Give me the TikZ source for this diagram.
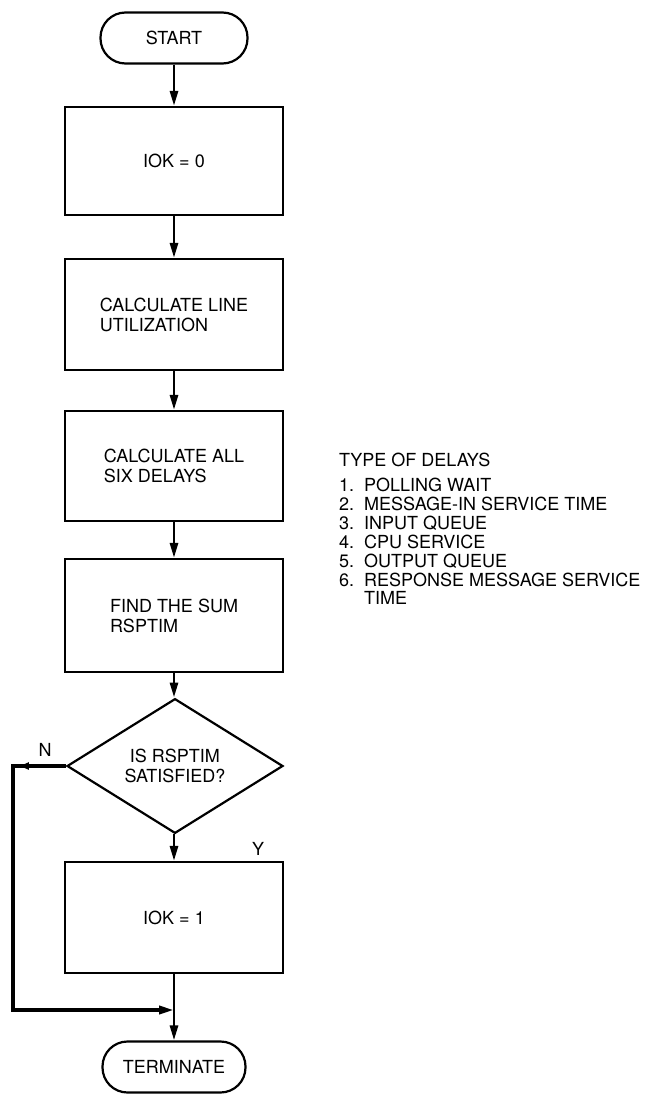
\documentclass[tikz,border=0pt]{standalone}
\usepackage{fontspec}
\setmainfont{TeX Gyre Heros}
\usetikzlibrary{arrows.meta,shapes.geometric,decorations.markings}

\begin{document}
\begin{tikzpicture}[x=1pt,y=-1pt,line width=2.2pt,
  font=\fontsize{18}{20}\selectfont,
  term/.style={draw,rectangle,rounded corners=25pt,minimum height=51pt,inner sep=0pt},
  procbox/.style={draw,rectangle,minimum width=218pt,align=left,inner sep=0pt},
  decide/.style={draw,diamond,minimum width=216pt,minimum height=124pt,inner sep=0pt,align=center},
  flow/.style={line width=2.8pt,-{Triangle[length=15pt,width=8pt]}},
  loopback/.style={flow,line width=3.5pt,postaction={decorate},
    decoration={markings,mark=at position 46pt with {\arrow{Triangle[length=9pt,width=7pt]}}}}]
  \useasboundingbox (0,0) rectangle (649,1094);
  \node[term,minimum width=147pt] (start) at (174,38) {START};
  \node[procbox,minimum height=108pt,align=center] (iok0) at (174,161) {IOK = 0};
  \node[procbox,minimum height=111pt] (util) at (174,314.5) {CALCULATE LINE\\UTILIZATION};
  \node[procbox,minimum height=110pt] (delays) at (174,466) {CALCULATE ALL\\SIX DELAYS};
  \node[procbox,minimum height=113pt] (sum) at (174,615.5) {FIND THE SUM\\RSPTIM};
  \node[decide] (sat) at (175,766) {IS RSPTIM\\SATISFIED?};
  \node[procbox,minimum height=111pt,align=center] (iok1) at (174,917.5) {IOK = 1};
  \node[term,minimum width=143pt] (stop) at (174,1067) {TERMINATE};
  \coordinate (join) at (174,1010);
  \draw[flow] (start) -- (iok0); \draw[flow] (iok0) -- (util);
  \draw[flow] (util) -- (delays); \draw[flow] (delays) -- (sum);
  \draw[flow] (sum) -- (sum.south |- sat.north); \draw[flow] (sat.south -| iok1.north) -- (iok1);
  \draw[flow] (iok1) -- (stop);
  \draw[loopback] (sat.west) -- ++(-53,0) |- (join);
  \node (nlab) at (45,750) {N};
  \node (ylab) at (258,849) {Y};
  \node[anchor=north west,inner sep=0pt,font=\fontsize{18}{18.5}\selectfont] (types) at (338,451.5) {%
    \begin{tabular}{@{}l@{\hspace{10pt}}l@{}}
      \multicolumn{2}{@{}l@{}}{TYPE OF DELAYS}\\[6pt]
      1. & POLLING WAIT\\
      2. & MESSAGE-IN SERVICE TIME\\
      3. & INPUT QUEUE\\
      4. & CPU SERVICE\\
      5. & OUTPUT QUEUE\\
      6. & RESPONSE MESSAGE SERVICE\\
         & TIME
    \end{tabular}};
\end{tikzpicture}
\end{document}
